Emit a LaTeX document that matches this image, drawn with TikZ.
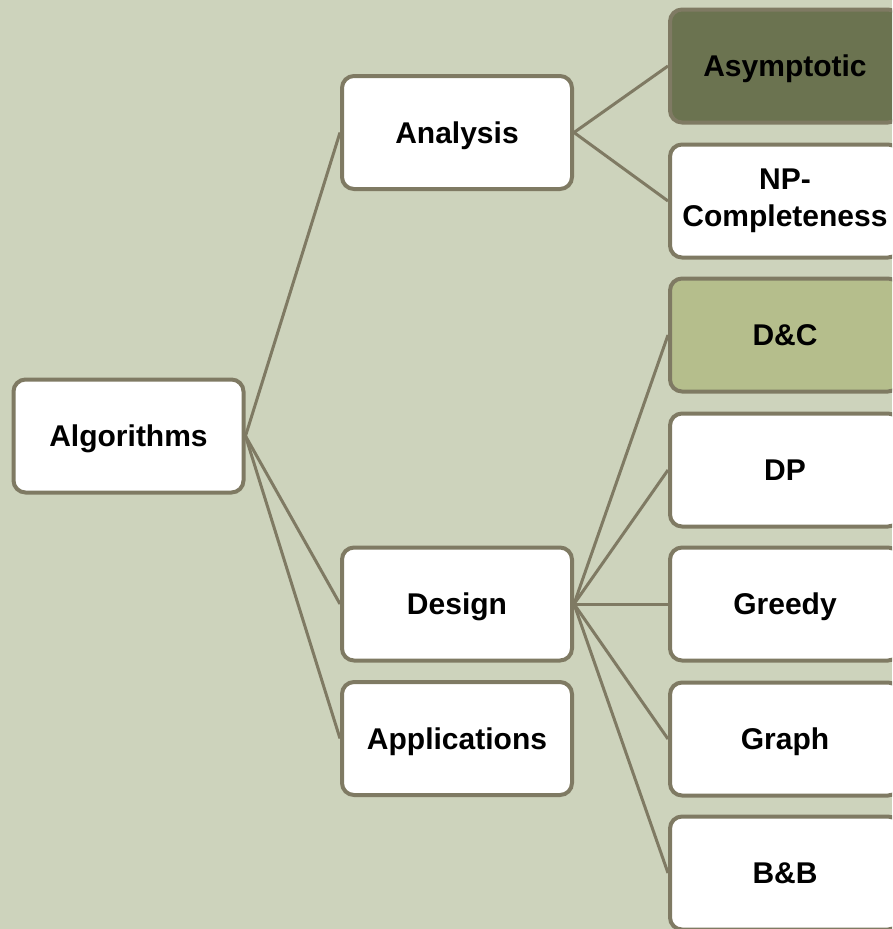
\documentclass[tikz,border=0pt]{standalone}
\usepackage{fontspec}
\setmainfont{Liberation Sans}
\definecolor{bgc}{HTML}{CDD3BC}
\definecolor{edgec}{HTML}{7F7A63}
\definecolor{darkol}{HTML}{6B7350}
\definecolor{lightol}{HTML}{B5BE8C}
\tikzset{
  basebox/.style={draw=edgec, line width=4pt, fill=white, rounded corners=12pt,
    minimum width=230pt, minimum height=113pt, align=center,
    font=\fontsize{30}{37}\selectfont\bfseries, text=black, inner sep=0pt},
  box/.style={basebox, text height=27pt, text depth=5.4pt},
  conn/.style={draw=edgec, line width=3pt}
}
\begin{document}
\begin{tikzpicture}[x=1pt,y=-1pt]
\useasboundingbox (0,0) rectangle (892,929);
\clip (0,0) rectangle (892,929);
\fill[bgc] (0,0) rectangle (892,929);
\node[box] (alg) at (128.5,436) {Algorithms};
\node[box] (ana) at (457,132.5) {Analysis};
\node[box] (des) at (457,604) {Design};
\node[box] (app) at (457,738.5) {Applications};
\node[box, fill=darkol] (asy) at (785,66) {Asymptotic};
\node[basebox] (np) at (785,201) {NP-\\Completeness};
\node[box, fill=lightol] (dc) at (785,335) {D\&C};
\node[box] (dp) at (785,470) {DP};
\node[box] (gr) at (785,604) {Greedy};
\node[box] (gph) at (785,739) {Graph};
\node[box] (bb) at (785,873) {B\&B};
\draw[conn] (alg.east) -- (ana.west);
\draw[conn] (alg.east) -- (des.west);
\draw[conn] (alg.east) -- (app.west);
\draw[conn] (ana.east) -- (asy.west);
\draw[conn] (ana.east) -- (np.west);
\draw[conn] (des.east) -- (dc.west);
\draw[conn] (des.east) -- (dp.west);
\draw[conn] (des.east) -- (gr.west);
\draw[conn] (des.east) -- (gph.west);
\draw[conn] (des.east) -- (bb.west);
\end{tikzpicture}
\end{document}
